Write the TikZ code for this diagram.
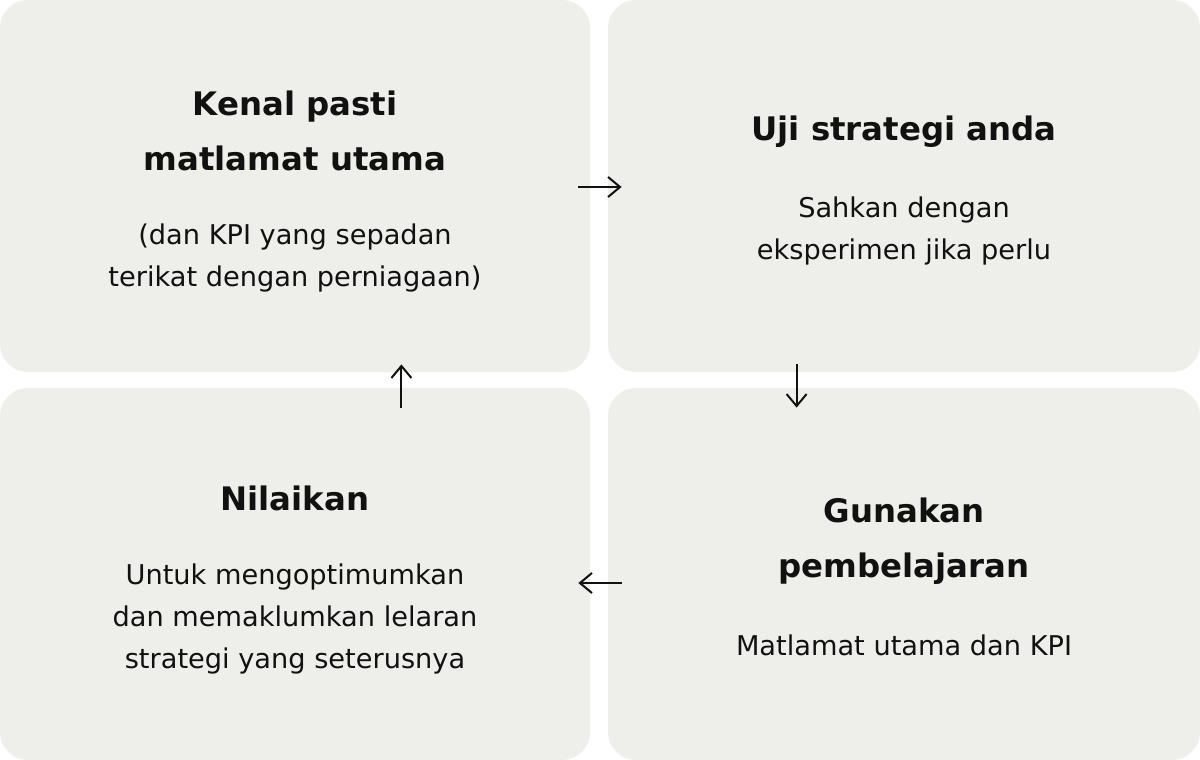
\documentclass[tikz,border=0pt]{standalone}
\usepackage{fontspec}
\setmainfont{DejaVu Sans}
\usetikzlibrary{arrows.meta}
\definecolor{boxgray}{HTML}{EEEEEA}
\definecolor{ink}{HTML}{111111}
\begin{document}
\begin{tikzpicture}[x=0.5pt, y=-0.5pt,
    box/.style={fill=boxgray, rounded corners=14pt, minimum width=295pt, minimum height=186pt, inner sep=0pt},
    title/.style={text=ink, align=center, font=\fontsize{16.2}{27.5}\selectfont\bfseries},
    body/.style={text=ink, align=center, font=\fontsize{13.6}{20.8}\selectfont},
    arr/.style={draw=ink, line width=1pt, -{Straight Barb[length=6pt, width=10pt, line width=1pt]}}]
    \useasboundingbox (0,0) rectangle (1200,760);
    \node[box] (goal) at (295,186) {};
    \node[box, minimum width=296pt] (test) at (904,186) {};
    \node[box] (assess) at (295,574) {};
    \node[box, minimum width=296pt] (apply) at (904,574) {};
    \node[title] (goaltitle) at (295,131) {Kenal pasti\\matlamat utama};
    \node[body] (goalbody) at (295,258) {(dan KPI yang sepadan\\terikat dengan perniagaan)};
    \node[title] (testtitle) at (904,132) {Uji strategi anda};
    \node[body] (testbody) at (904,231) {Sahkan dengan\\eksperimen jika perlu};
    \node[title] (assesstitle) at (295,498) {Nilaikan};
    \node[body] (assessbody) at (295,619) {Untuk mengoptimumkan\\dan memaklumkan lelaran\\strategi yang seterusnya};
    \node[title] (applytitle) at (904,541) {Gunakan\\pembelajaran};
    \node[body] (applybody) at (904,645) {Matlamat utama dan KPI};
    \draw[arr] ([xshift=-6pt, yshift=-0.5pt]goal.east) -- ([xshift=7pt, yshift=-0.5pt]test.west);
    \draw[arr] ([xshift=94.5pt, yshift=4pt]test.south west) -- ([xshift=94.5pt, yshift=-10pt]apply.north west);
    \draw[arr] ([xshift=7pt, yshift=-4.5pt]apply.west) -- ([xshift=-6pt, yshift=-4.5pt]assess.east);
    \draw[arr] ([xshift=-94.5pt, yshift=-10pt]assess.north east) -- ([xshift=-94.5pt, yshift=4pt]goal.south east);
\end{tikzpicture}
\end{document}
